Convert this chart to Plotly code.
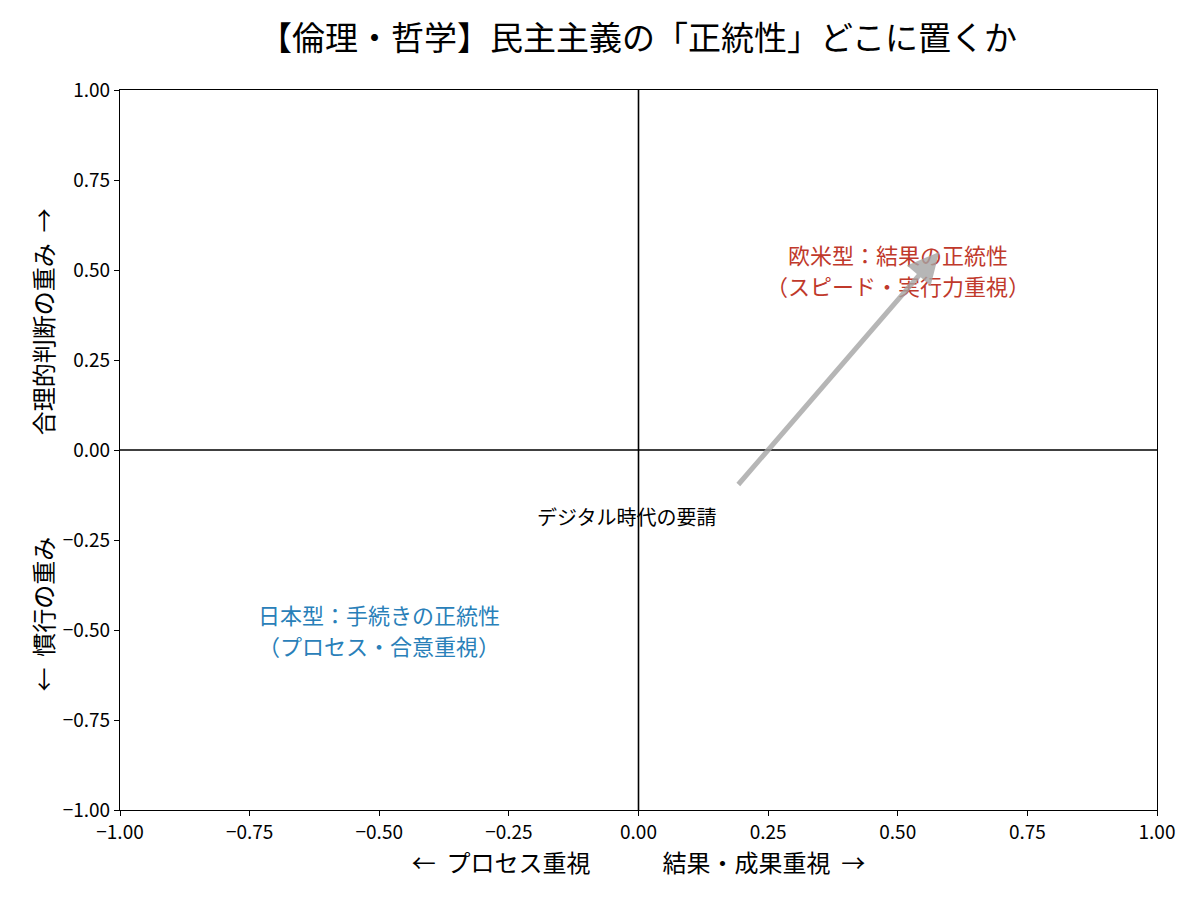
import plotly.graph_objects as go

# quadrant labels (two lines each)
quad_line1 = ["欧米型：結果の正統性", "日本型：手続きの正統性"]
quad_line2 = ["（スピード・実行力重視）", "（プロセス・合意重視）"]
quad_x = [0.5, -0.5]
quad_y = [0.5, -0.5]
quad_colors = ["#c0392b", "#2980b9"]

# arrow (tail -> head) and its caption
arrow_tail = [0.19, -0.10]
arrow_head = [0.58, 0.55]
arrow_text = "デジタル時代の要請"
arrow_text_pos = [-0.2, -0.2]

tick_vals = [-1.0, -0.75, -0.5, -0.25, 0.0, 0.25, 0.5, 0.75, 1.0]
tick_text = ["−1.00", "−0.75", "−0.50", "−0.25", "0.00", "0.25", "0.50", "0.75", "1.00"]

FONT = "Noto Sans CJK JP"

fig = go.Figure()

# empty trace so axes are drawn
fig.add_trace(go.Scatter(x=[None], y=[None], showlegend=False, hoverinfo="skip"))

# center lines
fig.add_hline(y=0, line=dict(color="black", width=1.6))
fig.add_vline(x=0, line=dict(color="black", width=1.6))

for l1, l2, x, y, c in zip(quad_line1, quad_line2, quad_x, quad_y, quad_colors):
	fig.add_annotation(x=x, y=y, text=l1, showarrow=False, yshift=16,
		font=dict(family=FONT, size=22, color=c))
	fig.add_annotation(x=x, y=y, text=l2, showarrow=False, yshift=-15,
		font=dict(family=FONT, size=22, color=c))

fig.add_annotation(x=arrow_text_pos[0], y=arrow_text_pos[1], text=arrow_text, showarrow=False,
	xanchor="left", yanchor="middle", yshift=6,
	font=dict(family=FONT, size=20, color="black"))

fig.add_annotation(x=arrow_head[0], y=arrow_head[1], ax=arrow_tail[0], ay=arrow_tail[1],
	xref="x", yref="y", axref="x", ayref="y", text="", showarrow=True,
	arrowhead=2, arrowsize=1.25, arrowwidth=5, standoff=0,
	arrowcolor="rgba(165,165,165,0.8)")

axis_common = dict(
	range=[-1, 1],
	tickvals=tick_vals,
	ticktext=tick_text,
	ticks="outside",
	ticklen=5,
	tickwidth=1,
	tickcolor="black",
	showgrid=False,
	zeroline=False,
	showline=True,
	linecolor="black",
	linewidth=1.2,
	mirror=True,
	tickfont=dict(family=FONT, size=19, color="black"),
)

fig.update_layout(
	width=1200, height=900,
	template="none",
	plot_bgcolor="white",
	paper_bgcolor="white",
	margin=dict(l=112, r=51, t=82, b=98),
	title=dict(text="【倫理・哲学】民主主義の「正統性」どこに置くか",
		x=630 / 1200, xanchor="center",
		y=1 - 30 / 900, yanchor="middle",
		font=dict(family=FONT, size=33, color="black")),
	xaxis=dict(axis_common,
		title=dict(text="←  プロセス重視　　　結果・成果重視  →",
			font=dict(family=FONT, size=24, color="black"), standoff=6)),
	yaxis=dict(axis_common,
		title=dict(text="←  慣行の重み　　　　 合理的判断の重み  →",
			font=dict(family=FONT, size=24, color="black"), standoff=2)),
)

fig.write_html("out.html")
